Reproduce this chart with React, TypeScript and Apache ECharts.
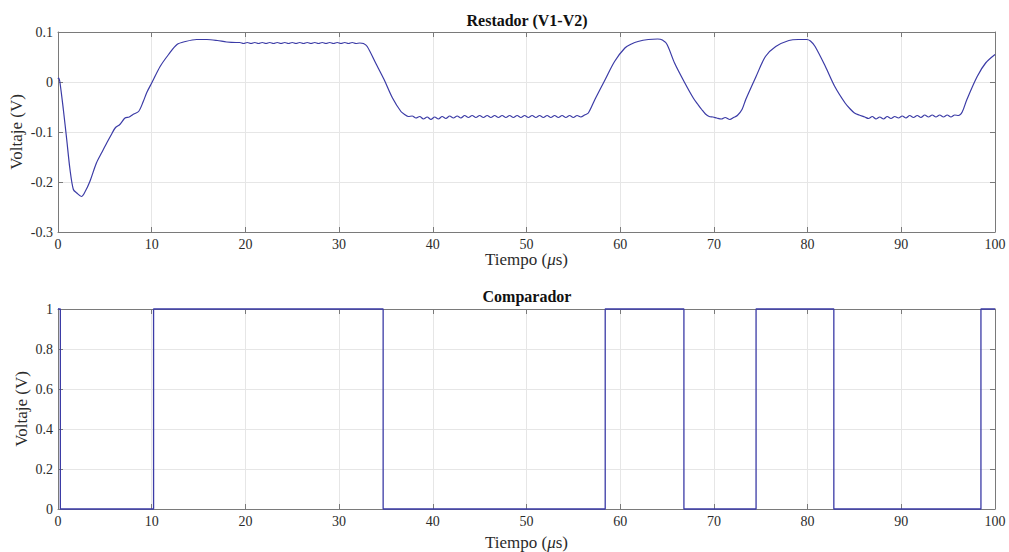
import React, { useEffect, useRef } from "react";
import * as echarts from "echarts";

// Restador (V1-V2): time (µs) and voltage (V)
const restT = [
  0, 0.07, 0.2, 0.57, 0.93, 1.28, 1.64, 2.0, 2.5, 2.9, 3.4, 4.1, 4.7, 5.2, 5.7, 6.1, 6.6, 7.15, 7.6, 8.0, 8.6, 9.1, 9.5,
  10.0, 10.9, 11.8, 12.7, 13.6, 14.8, 15.9, 17.0, 18.0, 19.0,
  19.4, 19.8, 20.2, 20.6, 21.0, 21.4, 21.8, 22.2, 22.6, 23.0, 23.4, 23.8, 24.2, 24.6, 25.0, 25.4, 25.8, 26.2, 26.6,
  27.0, 27.4, 27.8, 28.2, 28.6, 29.0, 29.4, 29.8, 30.2, 30.6, 31.0, 31.4, 31.8, 32.2,
  32.6, 33.0, 33.9, 34.8, 35.7, 36.6, 37.0, 37.4,
  37.8, 38.2, 38.6, 39.0, 39.4, 39.8, 40.2, 40.6, 41.0, 41.4, 41.8, 42.2, 42.6, 43.0, 43.4, 43.8, 44.2, 44.6, 45.0,
  45.4, 45.8, 46.2, 46.6, 47.0, 47.4, 47.8, 48.2, 48.6, 49.0, 49.4, 49.8, 50.2, 50.6, 51.0, 51.4, 51.8, 52.2, 52.6,
  53.0, 53.4, 53.8, 54.2, 54.6, 55.0, 55.4, 55.8, 56.2,
  56.6, 57.3, 58.4, 59.4, 60.5, 61.2, 61.9, 63.0, 64.0, 64.5, 65.0, 65.8, 66.9, 67.8, 68.3, 68.7, 69.1, 69.5, 69.9,
  70.3, 70.8, 71.2, 71.7, 72.1, 72.5, 73.0, 73.4, 74.5, 75.5, 76.6, 78.0, 79.0, 79.9, 80.3, 80.8, 81.9, 82.9, 84.0,
  84.5, 85.0, 85.5,
  86.1, 86.5, 86.9, 87.3, 87.7, 88.1, 88.5, 88.9, 89.3, 89.7, 90.1, 90.5, 90.9, 91.3, 91.7, 92.1, 92.5, 92.9, 93.3,
  93.7, 94.1, 94.5, 94.9, 95.3, 95.7, 96.1,
  96.5, 97.0, 98.1, 99.0, 100,
];
const restV = [
  0.006, 0.008, 0.0, -0.055, -0.115, -0.175, -0.215, -0.222, -0.229, -0.219, -0.199, -0.162, -0.14, -0.122, -0.105,
  -0.092, -0.085, -0.072, -0.07, -0.065, -0.059, -0.039, -0.02,
  -0.002, 0.031, 0.055, 0.075, 0.081, 0.085, 0.085, 0.083, 0.08, 0.079,
  0.079, 0.077, 0.079, 0.077, 0.079, 0.077, 0.079, 0.077, 0.079, 0.077, 0.079, 0.077, 0.079, 0.077, 0.079, 0.077,
  0.079, 0.077, 0.079,
  0.077, 0.079, 0.077, 0.079, 0.077, 0.079, 0.077, 0.079, 0.077, 0.079, 0.077, 0.079, 0.077, 0.078,
  0.077, 0.071, 0.038, 0.005, -0.032, -0.059, -0.065, -0.069,
  -0.068, -0.072, -0.069, -0.074, -0.07, -0.075, -0.07, -0.074, -0.069, -0.073, -0.068, -0.072, -0.068, -0.072, -0.067,
  -0.071, -0.067, -0.071, -0.067,
  -0.071, -0.067, -0.071, -0.067, -0.071, -0.067, -0.071, -0.067, -0.071, -0.067, -0.071, -0.067, -0.071, -0.067,
  -0.071, -0.067, -0.071, -0.067, -0.071,
  -0.067, -0.071, -0.067, -0.071, -0.067, -0.071, -0.067, -0.07, -0.066,
  -0.062, -0.035, 0.005, 0.041, 0.068, 0.076, 0.081, 0.085, 0.086, 0.084, 0.075, 0.038, -0.002, -0.032, -0.045, -0.055,
  -0.064, -0.069, -0.07,
  -0.072, -0.074, -0.071, -0.075, -0.071, -0.067, -0.055, -0.035, 0.011, 0.051, 0.071, 0.083, 0.085, 0.085, 0.082,
  0.071, 0.031, -0.009, -0.042,
  -0.053, -0.062, -0.066,
  -0.07, -0.073, -0.069, -0.074, -0.07, -0.074, -0.069, -0.073, -0.069, -0.072, -0.068, -0.072, -0.067, -0.071, -0.067,
  -0.071, -0.066, -0.07, -0.066,
  -0.07, -0.066, -0.07, -0.066, -0.07, -0.066, -0.067,
  -0.06, -0.035, 0.011, 0.038, 0.055,
];

// Comparador: switching instants (µs) and the level held from each instant on
const compT = [0, 0.25, 10.2, 34.7, 58.4, 66.8, 74.5, 82.8, 98.5, 100];
const compV = [1, 0, 1, 0, 1, 0, 1, 0, 1, 1];

const xTicks = [0, 10, 20, 30, 40, 50, 60, 70, 80, 90, 100];
const restYTicks = [-0.3, -0.2, -0.1, 0, 0.1];
const compYTicks = [0, 0.2, 0.4, 0.6, 0.8, 1];

const FONT = "'Liberation Serif', 'DejaVu Serif', serif";
const LINE = "#3b3ba6";
const BOX = "#7a7a7a";
const TXT = "#2b2b2b";

export default function App() {
  const ref = useRef<HTMLDivElement>(null);
  useEffect(() => {
    if (!ref.current) return;
    const chart = echarts.init(ref.current, null, { renderer: "svg" });
    const grids = [
      { left: 58, top: 32, width: 937, height: 200, containLabel: false, outerBoundsMode: "none" },
      { left: 58, top: 309, width: 937, height: 200, containLabel: false, outerBoundsMode: "none" },
    ];
    const xAxisBase = (gi: number, pos: "bottom" | "top", gap: number) => ({
      type: "value" as const,
      gridIndex: gi,
      position: pos,
      min: xTicks[0],
      max: xTicks[xTicks.length - 1],
      interval: 10,
      axisLine: { show: true, onZero: false, lineStyle: { color: BOX, width: 1 } },
      axisTick: { show: true, inside: true, length: 5, lineStyle: { color: BOX } },
      axisLabel: {
        show: pos === "bottom",
        color: TXT,
        fontFamily: FONT,
        fontSize: 14,
        margin: 5,
      },
      splitLine: { show: pos === "bottom", lineStyle: { color: "#e6e6e6", width: 1 } },
      name: pos === "bottom" ? "Tiempo ({i|μ}s)" : "",
      nameLocation: "middle" as const,
      nameGap: gap,
      nameMoveOverlap: false,
      nameTextStyle: {
        color: TXT,
        fontFamily: FONT,
        fontSize: 17,
        rich: { i: { fontStyle: "italic", fontFamily: FONT, fontSize: 17, color: TXT } },
      },
    });
    const yAxisBase = (
      gi: number,
      pos: "left" | "right",
      ticks: number[],
      interval: number,
      fmt: (v: number) => string,
      gap: number
    ) => ({
      type: "value" as const,
      gridIndex: gi,
      position: pos,
      min: ticks[0],
      max: ticks[ticks.length - 1],
      interval,
      axisLine: { show: true, onZero: false, lineStyle: { color: BOX, width: 1 } },
      axisTick: { show: true, inside: true, length: 5, lineStyle: { color: BOX } },
      axisLabel: {
        show: pos === "left",
        color: TXT,
        fontFamily: FONT,
        fontSize: 14,
        margin: 5,
        formatter: fmt,
      },
      splitLine: { show: pos === "left", lineStyle: { color: "#e6e6e6", width: 1 } },
      name: pos === "left" ? "Voltaje (V)" : "",
      nameLocation: "middle" as const,
      nameGap: gap,
      nameMoveOverlap: false,
      nameTextStyle: { color: TXT, fontFamily: FONT, fontSize: 17 },
    });
    const fmtRest = (v: number) => {
      const r = Math.round(v * 10) / 10;
      return r === 0 ? "0" : String(r);
    };
    const fmtComp = (v: number) => {
      const r = Math.round(v * 10) / 10;
      return String(r);
    };
    chart.setOption({
      animation: false,
      backgroundColor: "#ffffff",
      title: [
        {
          text: "Restador (V1-V2)",
          left: 527,
          top: 12,
          padding: 0,
          textAlign: "center",
          textStyle: { fontFamily: FONT, fontSize: 16, fontWeight: "bold", color: "#111" },
        },
        {
          text: "Comparador",
          left: 527,
          top: 288,
          padding: 0,
          textAlign: "center",
          textStyle: { fontFamily: FONT, fontSize: 16, fontWeight: "bold", color: "#111" },
        },
      ],
      grid: grids,
      xAxis: [xAxisBase(0, "bottom", 19), xAxisBase(0, "top", 0), xAxisBase(1, "bottom", 25), xAxisBase(1, "top", 0)],
      yAxis: [
        yAxisBase(0, "left", restYTicks, 0.1, fmtRest, 33),
        yAxisBase(0, "right", restYTicks, 0.1, fmtRest, 0),
        yAxisBase(1, "left", compYTicks, 0.2, fmtComp, 28),
        yAxisBase(1, "right", compYTicks, 0.2, fmtComp, 0),
      ],
      series: [
        {
          type: "line",
          xAxisIndex: 0,
          yAxisIndex: 0,
          data: restT.map((t, i) => [t, restV[i]]),
          showSymbol: false,
          smooth: 0.3,
          lineStyle: { color: LINE, width: 1.2 },
          silent: true,
        },
        {
          type: "line",
          xAxisIndex: 2,
          yAxisIndex: 2,
          data: compT.map((t, i) => [t, compV[i]]),
          step: "end",
          showSymbol: false,
          clip: false,
          lineStyle: { color: LINE, width: 1.3 },
          silent: true,
        },
      ],
    });
    return () => chart.dispose();
  }, []);
  return <div ref={ref} style={{ width: 1009, height: 552, position: "absolute", left: 0, top: 0 }} />;
}
